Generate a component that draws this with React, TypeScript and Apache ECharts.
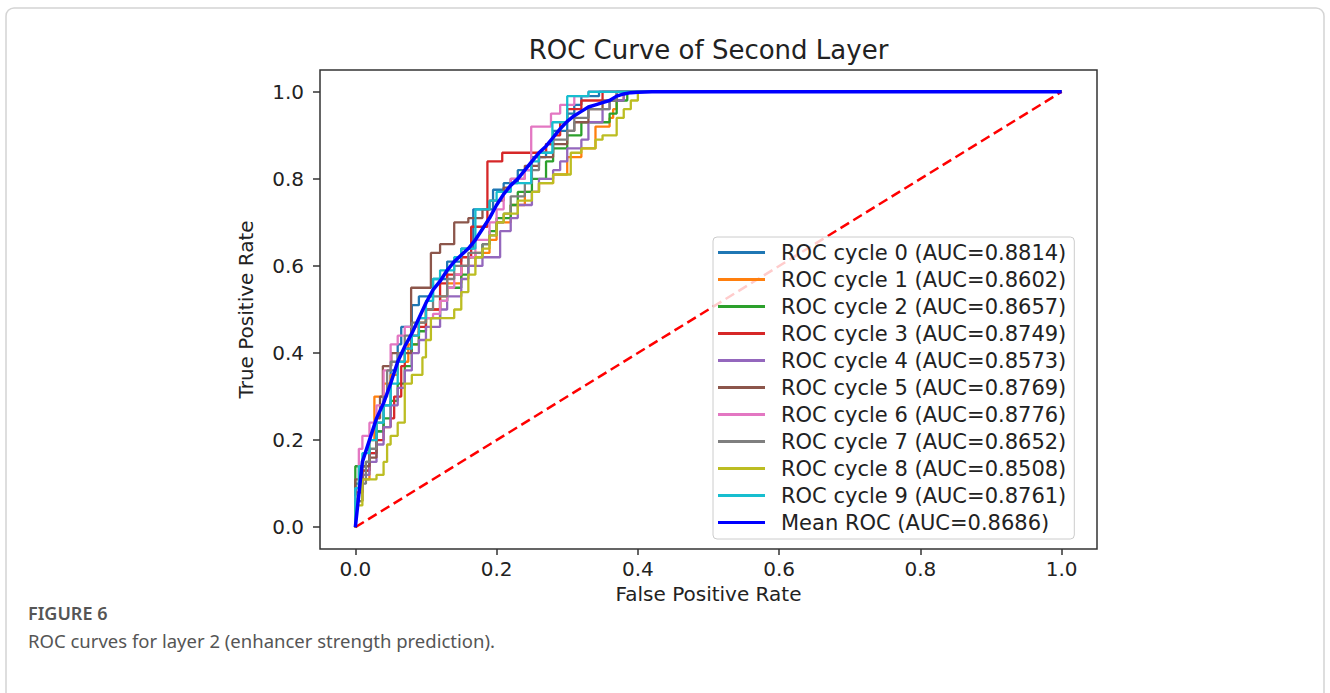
import React, { useEffect, useRef } from "react";
import * as echarts from "echarts";

const xTicks = [0, 0.2, 0.4, 0.6, 0.8, 1.0];
const yTicks = [0, 0.2, 0.4, 0.6, 0.8, 1.0];

const aucValues = [0.8814, 0.8602, 0.8657, 0.8749, 0.8573, 0.8769, 0.8776, 0.8652, 0.8508, 0.8761];
const meanAuc = 0.8686;
const cycleColors = ["#1f77b4", "#ff7f0e", "#2ca02c", "#d62728", "#9467bd", "#8c564b", "#e377c2", "#7f7f7f", "#bcbd22", "#17becf"];

const cycle0 = [[0,0],[0,0.10],[0.01,0.13],[0.02,0.17],[0.03,0.22],[0.04,0.28],[0.05,0.36],[0.06,0.42],[0.065,0.46],[0.08,0.51],[0.09,0.53],[0.11,0.57],[0.13,0.61],[0.15,0.64],[0.167,0.73],[0.195,0.775],[0.21,0.79],[0.23,0.82],[0.25,0.85],[0.27,0.88],[0.28,0.91],[0.30,0.95],[0.31,0.97],[0.32,0.99],[0.345,1.0],[1,1]];
const cycle1 = [[0,0],[0,0.06],[0.01,0.11],[0.02,0.20],[0.027,0.30],[0.04,0.33],[0.05,0.35],[0.06,0.38],[0.075,0.42],[0.09,0.47],[0.10,0.50],[0.12,0.53],[0.13,0.56],[0.15,0.60],[0.17,0.63],[0.19,0.66],[0.20,0.70],[0.22,0.74],[0.24,0.77],[0.26,0.79],[0.28,0.81],[0.30,0.85],[0.32,0.87],[0.34,0.92],[0.36,0.94],[0.365,0.96],[0.37,0.98],[0.38,1.0],[1,1]];
const cycle2 = [[0,0],[0,0.14],[0.015,0.15],[0.02,0.18],[0.03,0.22],[0.04,0.25],[0.05,0.29],[0.06,0.33],[0.07,0.37],[0.08,0.42],[0.09,0.45],[0.10,0.48],[0.12,0.52],[0.13,0.55],[0.15,0.58],[0.16,0.62],[0.18,0.65],[0.19,0.68],[0.20,0.71],[0.22,0.74],[0.23,0.77],[0.25,0.80],[0.27,0.84],[0.28,0.87],[0.30,0.90],[0.32,0.93],[0.36,0.95],[0.37,0.98],[0.385,1.0],[1,1]];
const cycle3 = [[0,0],[0,0.08],[0.01,0.13],[0.02,0.17],[0.03,0.20],[0.04,0.23],[0.05,0.25],[0.055,0.30],[0.065,0.37],[0.07,0.41],[0.08,0.44],[0.09,0.46],[0.10,0.50],[0.12,0.56],[0.13,0.58],[0.15,0.62],[0.164,0.69],[0.187,0.84],[0.208,0.86],[0.27,0.88],[0.28,0.90],[0.29,0.93],[0.30,0.96],[0.32,0.98],[0.35,1.0],[1,1]];
const cycle4 = [[0,0],[0,0.09],[0.01,0.12],[0.02,0.15],[0.03,0.19],[0.04,0.23],[0.05,0.28],[0.06,0.32],[0.07,0.36],[0.08,0.40],[0.09,0.43],[0.10,0.46],[0.12,0.50],[0.13,0.53],[0.15,0.57],[0.16,0.60],[0.18,0.62],[0.205,0.68],[0.22,0.71],[0.23,0.74],[0.25,0.77],[0.26,0.80],[0.28,0.82],[0.29,0.84],[0.30,0.87],[0.32,0.89],[0.33,0.93],[0.35,0.96],[0.36,0.98],[0.38,1.0],[1,1]];
const cycle5 = [[0,0],[0,0.11],[0.01,0.14],[0.02,0.16],[0.03,0.25],[0.035,0.30],[0.039,0.37],[0.051,0.40],[0.079,0.55],[0.107,0.63],[0.12,0.65],[0.14,0.70],[0.16,0.71],[0.18,0.73],[0.19,0.75],[0.21,0.78],[0.22,0.80],[0.24,0.83],[0.26,0.85],[0.28,0.88],[0.30,0.91],[0.31,0.93],[0.33,0.96],[0.35,0.98],[0.37,1.0],[1,1]];
const cycle6 = [[0,0],[0,0.07],[0.005,0.18],[0.01,0.21],[0.02,0.24],[0.03,0.28],[0.04,0.36],[0.05,0.42],[0.06,0.44],[0.07,0.46],[0.09,0.48],[0.11,0.49],[0.12,0.52],[0.13,0.55],[0.14,0.58],[0.15,0.60],[0.16,0.62],[0.17,0.66],[0.19,0.70],[0.20,0.73],[0.21,0.77],[0.22,0.80],[0.24,0.82],[0.249,0.92],[0.277,0.95],[0.29,0.97],[0.31,0.99],[0.33,1.0],[1,1]];
const cycle7 = [[0,0],[0,0.06],[0.01,0.10],[0.015,0.15],[0.02,0.18],[0.03,0.24],[0.04,0.30],[0.045,0.36],[0.05,0.38],[0.06,0.40],[0.07,0.44],[0.08,0.47],[0.10,0.50],[0.11,0.53],[0.13,0.57],[0.14,0.60],[0.16,0.63],[0.18,0.65],[0.19,0.67],[0.20,0.70],[0.21,0.72],[0.22,0.76],[0.24,0.79],[0.25,0.82],[0.26,0.86],[0.28,0.89],[0.30,0.91],[0.31,0.94],[0.33,0.96],[0.36,0.98],[0.37,1.0],[1,1]];
const cycle8 = [[0,0],[0,0.05],[0.01,0.11],[0.03,0.12],[0.04,0.15],[0.045,0.19],[0.05,0.21],[0.06,0.24],[0.07,0.33],[0.08,0.35],[0.095,0.39],[0.10,0.43],[0.107,0.48],[0.14,0.50],[0.15,0.54],[0.16,0.58],[0.17,0.62],[0.18,0.64],[0.19,0.67],[0.20,0.70],[0.21,0.72],[0.23,0.75],[0.25,0.77],[0.26,0.79],[0.28,0.81],[0.305,0.86],[0.32,0.87],[0.34,0.89],[0.35,0.90],[0.37,0.94],[0.38,0.96],[0.39,0.98],[0.40,1.0],[1,1]];
const cycle9 = [[0,0],[0,0.09],[0.005,0.14],[0.01,0.17],[0.02,0.20],[0.03,0.24],[0.04,0.28],[0.05,0.33],[0.06,0.38],[0.07,0.41],[0.08,0.44],[0.09,0.48],[0.10,0.52],[0.11,0.57],[0.12,0.59],[0.14,0.62],[0.15,0.64],[0.17,0.73],[0.19,0.75],[0.20,0.77],[0.22,0.79],[0.249,0.84],[0.26,0.86],[0.279,0.93],[0.30,0.99],[0.33,1.0],[1,1]];

const cycles = [cycle0, cycle1, cycle2, cycle3, cycle4, cycle5, cycle6, cycle7, cycle8, cycle9];

const meanFpr = [0, 0.01, 0.02, 0.03, 0.04, 0.05, 0.06, 0.07, 0.08, 0.09, 0.10, 0.11, 0.12, 0.13, 0.14, 0.15, 0.16, 0.17, 0.18, 0.19, 0.20, 0.21, 0.22, 0.23, 0.24, 0.25, 0.26, 0.27, 0.28, 0.29, 0.30, 0.31, 0.32, 0.33, 0.34, 0.35, 0.36, 0.37, 0.38, 0.39, 0.40, 0.42, 1.0];
const meanTpr = [0, 0.15, 0.20, 0.25, 0.285, 0.33, 0.38, 0.415, 0.445, 0.48, 0.515, 0.545, 0.565, 0.59, 0.61, 0.625, 0.64, 0.66, 0.685, 0.71, 0.74, 0.765, 0.785, 0.80, 0.82, 0.84, 0.86, 0.875, 0.895, 0.915, 0.932, 0.945, 0.955, 0.965, 0.97, 0.975, 0.98, 0.99, 0.995, 0.998, 0.999, 1.0, 1.0];

const chanceLine = [[0, 0], [1, 1]];

const FONT = "'DejaVu Sans', sans-serif";

export default function App() {
  const ref = useRef<HTMLDivElement>(null);
  useEffect(() => {
    if (!ref.current) return;
    const chart = echarts.init(ref.current, null, { renderer: "svg" });
    const cycleNames = aucValues.map((a, i) => `ROC cycle ${i} (AUC=${a.toFixed(4)})`);
    const meanName = `Mean ROC (AUC=${meanAuc.toFixed(4)})`;
    const series: any[] = cycles.map((d, i) => ({
      name: cycleNames[i],
      type: "line",
      step: "end",
      data: d,
      symbol: "none",
      showSymbol: false,
      z: 2,
      lineStyle: { width: 2.3, color: cycleColors[i] },
      itemStyle: { color: cycleColors[i] },
    }));
    series.push({
      name: "chance",
      type: "line",
      data: chanceLine,
      symbol: "none",
      showSymbol: false,
      z: 3,
      lineStyle: { width: 2.5, color: "#ff0000", type: [10, 5] },
      itemStyle: { color: "#ff0000" },
    });
    series.push({
      name: meanName,
      type: "line",
      data: meanFpr.map((f, i) => [f, meanTpr[i]]),
      symbol: "none",
      showSymbol: false,
      z: 4,
      lineStyle: { width: 3.5, color: "#0000ff" },
      itemStyle: { color: "#0000ff" },
    });
    chart.setOption({
      animation: false,
      backgroundColor: "#ffffff",
      title: {
        text: "ROC Curve of Second Layer",
        left: 708.5,
        top: 37,
        padding: 0,
        textAlign: "center",
        textStyle: { fontFamily: FONT, fontSize: 26, fontWeight: "normal", color: "#222" },
      },
      grid: {
        left: 320,
        right: 233,
        top: 70,
        bottom: 144,
        show: true,
        borderColor: "#333",
        borderWidth: 1.5,
        backgroundColor: "transparent",
      },
      legend: {
        orient: "vertical",
        left: 713,
        top: 237,
        data: [...cycleNames, meanName],
        icon: "rect",
        itemWidth: 47,
        itemHeight: 3,
        itemGap: 6,
        padding: [5, 8, 6, 5],
        backgroundColor: "rgba(255,255,255,0.8)",
        borderColor: "#cccccc",
        borderWidth: 1,
        borderRadius: 4,
        textStyle: { fontFamily: FONT, fontSize: 21, color: "#222", padding: [0, 0, 0, 11] },
      },
      xAxis: {
        type: "value",
        min: -0.05,
        max: 1.05,
        name: "False Positive Rate",
        nameLocation: "middle",
        nameGap: 34,
        nameTextStyle: { fontFamily: FONT, fontSize: 20, color: "#222" },
        axisLine: { show: false, onZero: false },
        axisTick: { show: true, length: 6, customValues: xTicks, lineStyle: { color: "#333", width: 1.5 } },
        axisLabel: {
          customValues: xTicks,
          formatter: (v: number) => v.toFixed(1),
          fontFamily: FONT,
          fontSize: 20,
          color: "#222",
          margin: 10,
        },
        splitLine: { show: false },
      },
      yAxis: {
        type: "value",
        min: -0.05,
        max: 1.05,
        name: "True Positive Rate",
        nameLocation: "middle",
        nameGap: 64,
        nameTextStyle: { fontFamily: FONT, fontSize: 20, color: "#222" },
        axisLine: { show: false, onZero: false },
        axisTick: { show: true, length: 7, customValues: yTicks, lineStyle: { color: "#333", width: 1.5 } },
        axisLabel: {
          customValues: yTicks,
          formatter: (v: number) => v.toFixed(1),
          fontFamily: FONT,
          fontSize: 20,
          color: "#222",
          margin: 16,
        },
        splitLine: { show: false },
      },
      graphic: [
        {
          type: "rect",
          shape: { x: 6, y: 8, width: 1318, height: 720, r: 8 },
          style: { fill: "none", stroke: "#d4d4d4", lineWidth: 1.5 },
          silent: true,
          z: -1,
        },
        {
          type: "text",
          x: 28,
          y: 613,
          style: {
            text: "FIGURE 6",
            fontFamily: "'Noto Sans', sans-serif",
            fontSize: 18,
            fontWeight: 600,
            fill: "#555555",
            verticalAlign: "middle",
          },
        },
        {
          type: "text",
          x: 28,
          y: 640,
          style: {
            text: "ROC curves for layer 2 (enhancer strength prediction).",
            fontFamily: "'Noto Sans', sans-serif",
            fontSize: 18.5,
            fill: "#555555",
            verticalAlign: "middle",
          },
        },
      ],
      series,
    });
    return () => chart.dispose();
  }, []);
  return (
    <div
      ref={ref}
      style={{ position: "fixed", left: 0, top: 0, width: 1330, height: 693, background: "#fff" }}
    />
  );
}
